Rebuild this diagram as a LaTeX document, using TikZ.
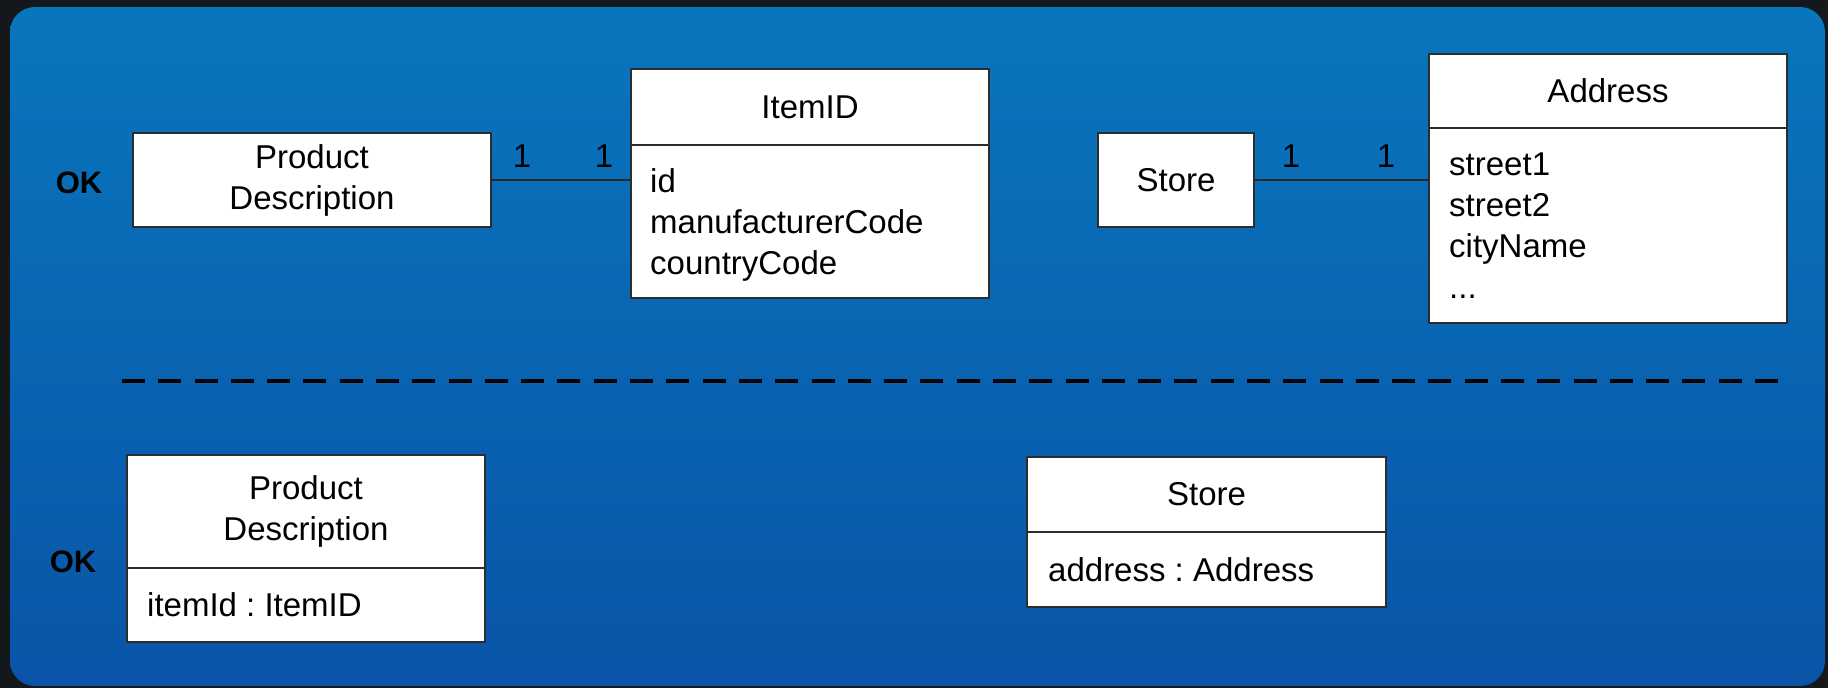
\documentclass[tikz,border=0pt]{standalone}
\usepackage{fontspec}
\setmainfont{Liberation Sans}
\frenchspacing
\definecolor{frame}{RGB}{20,23,27}
\definecolor{paneltop}{RGB}{8,118,189}
\definecolor{panelbot}{RGB}{10,84,168}
\definecolor{umlline}{RGB}{45,45,45}
\begin{document}
\begin{tikzpicture}[x=1pt,y=-1pt,
  umlbox/.style={draw=umlline, line width=1.6pt, fill=white, inner sep=0pt},
  txt/.style={font=\fontsize{33}{41}\selectfont, inner sep=0pt, text=black},
  attr/.style={txt, anchor=base west},
  oklabel/.style={font=\fontsize{31}{37}\selectfont\bfseries, inner sep=0pt, text=black},
  divider/.style={draw=umlline, line width=1.6pt},
  assoc/.style={draw=black!85, line width=1.8pt},
  separator/.style={draw=black, line width=4pt, dash pattern=on 23pt off 13.29pt}
]
  % page and panel
  \useasboundingbox (0,0) rectangle (1828,688);
  \fill[frame] (0,0) rectangle (1828,688);
  \shade[top color=paneltop, bottom color=panelbot, rounded corners=25pt]
    (10,7) rectangle (1825,686);

  % ---------- upper row ----------
  \node[oklabel] (ok1) at (79,183) {OK};

  \node[umlbox, minimum width=358pt, minimum height=94pt] (pd) at (312,180) {};
  \node[txt, align=center] (pdname) at (pd.center) {Product\\Description};

  \node[umlbox, minimum width=358pt, minimum height=229pt] (itemid) at (810,183.5) {};
  \draw[divider] (631,145) -- (989,145);
  \node[txt] (itemidname) at (810,107) {ItemID};
  \node[attr] (a1) at (650,192.5) {id};
  \node[attr] (a2) at (650,233.5) {manufacturerCode};
  \node[attr] (a3) at (650,274.5) {countryCode};

  \node[umlbox, minimum width=156pt, minimum height=94pt] (store) at (1176,180) {};
  \node[txt] (storename) at (store.center) {Store};

  \node[umlbox, minimum width=358pt, minimum height=269pt] (address) at (1608,188.5) {};
  \draw[divider] (1429,128) -- (1787,128);
  \node[txt] (addressname) at (1608,91) {Address};
  \node[attr] (b1) at (1449,175.5) {street1};
  \node[attr] (b2) at (1449,216.5) {street2};
  \node[attr] (b3) at (1449,257.5) {cityName};
  \node[attr] (b4) at (1449,298.5) {...};

  % associations with multiplicities
  \draw[assoc] (pd.east) -- (pd.east -| itemid.west);
  \node[txt] (m1) at (522,156) {1};
  \node[txt] (m2) at (604,156) {1};
  \draw[assoc] (store.east) -- (store.east -| address.west);
  \node[txt] (m3) at (1291,156) {1};
  \node[txt] (m4) at (1386,156) {1};

  % ---------- separator ----------
  \coordinate (sepL) at (122,381);
  \coordinate (sepR) at (1778,381);
  \draw[separator] (sepL) -- (sepR);

  % ---------- lower row ----------
  \node[oklabel] (ok2) at (73,562) {OK};

  \node[umlbox, minimum width=358pt, minimum height=187pt] (pd2) at (306,548.5) {};
  \draw[divider] (127,568) -- (485,568);
  \node[txt, align=center] (pd2name) at (306,511) {Product\\Description};
  \node[attr] (c1) at (147,616.5) {itemId : ItemID};

  \node[umlbox, minimum width=359pt, minimum height=150pt] (store2) at (1206.5,532) {};
  \draw[divider] (1027,532) -- (1386,532);
  \node[txt] (store2name) at (1206.5,494) {Store};
  \node[attr] (d1) at (1048,581.5) {address : Address};
\end{tikzpicture}
\end{document}
